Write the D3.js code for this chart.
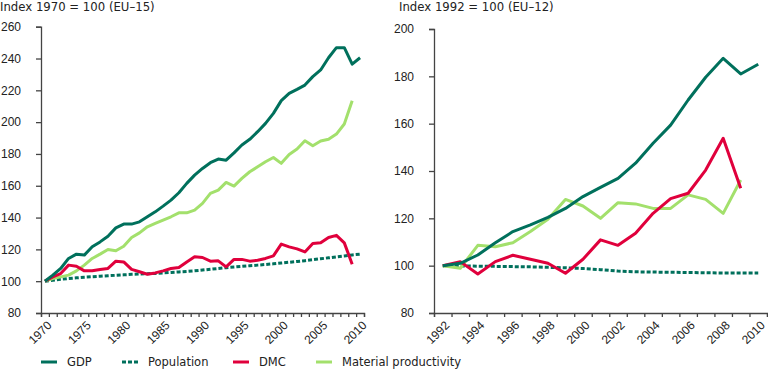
<!DOCTYPE html>
<html>
<head>
<meta charset="utf-8">
<script src="https://cdn.jsdelivr.net/npm/d3@7"></script>
<style>
  body { margin: 0; background: #fff; }
  svg { display: block; font-family: "DejaVu Sans", Verdana, sans-serif; }
  .axis path, .axis line { stroke: #444; stroke-width: 1.3px; }
</style>
</head>
<body>
<svg id="chart" width="768" height="369"></svg>
<script>
// ---------- Data: left panel (EU-15, 1970 = 100) ----------
const yearsL = d3.range(1970, 2011);
const gdpL = [100, 103.8, 108, 114.3, 117, 116.4, 121.6, 124.7, 128.3, 133.5, 135.9,
  135.9, 137.3, 140.5, 143.6, 147.2, 151, 155.6, 161.5, 166.7, 170.9,
  174.5, 176.8, 176.1, 180.7, 185.6, 189.2, 194, 199.2, 205.5, 213.5,
  218.1, 220.6, 223.3, 228.6, 232.8, 240.5, 246.8, 246.8, 236.5, 240.5];
const popL = [100, 100.6, 101.2, 101.7, 102.1, 102.5, 102.8, 103.1, 103.4, 103.7, 104.0,
  104.3, 104.5, 104.7, 104.9, 105.2, 105.5, 105.8, 106.1, 106.5, 107.0,
  107.5, 108.0, 108.5, 108.9, 109.3, 109.7, 110.1, 110.5, 110.9, 111.4,
  111.9, 112.4, 112.9, 113.5, 114.1, 114.7, 115.3, 115.9, 116.5, 117.0];
const dmcL = [100, 102.7, 104.8, 110.1, 109.4, 106.5, 106.5, 107.4, 108, 112.6, 112.1,
  107.4, 105.9, 104.4, 105.2, 106.5, 108, 108.6, 112.1, 115.3, 114.9,
  112.6, 112.8, 109, 113.7, 113.7, 112.6, 113.2, 114.3, 115.9, 123.3,
  121.6, 120.3, 118.4, 123.7, 124.1, 127.5, 128.8, 124.1, 110.7];
const mpL = [100, 101.7, 102.7, 103.8, 106.5, 110.1, 114.3, 117, 119.9, 119.1, 122,
  127.5, 130.4, 134.2, 136.3, 138.4, 140.5, 143, 143, 144.7, 148.9,
  155.2, 157.3, 162.1, 159.8, 164.6, 168.8, 171.9, 175.1, 177.8, 174.1,
  179.7, 183.1, 188.3, 185.1, 188.1, 189.2, 192.5, 198.8, 213.5];
const ticksYL = [80, 100, 120, 140, 160, 180, 200, 220, 240, 260];
const labelYearsL = [1970, 1975, 1980, 1985, 1990, 1995, 2000, 2005, 2010];

// ---------- Data: right panel (EU-12, 1992 = 100) ----------
const yearsR = d3.range(1992, 2011);
const gdpR = [100, 101, 104.5, 109.7, 114.4, 117.2, 120.4, 124.2, 129.2, 133.1,
  136.9, 143.3, 151.7, 159.4, 170, 179.6, 187.6, 181, 185.1];
const popR = [100, 99.9, 99.8, 99.7, 99.6, 99.5, 99.3, 99.1, 98.8, 98.3,
  97.7, 97.4, 97.3, 97.2, 97.1, 97.0, 96.9, 96.9, 96.9];
const dmcR = [100, 101.7, 96.5, 101.7, 104.4, 102.7, 101.0, 96.8, 102.7, 110.9,
  108.6, 113.7, 122.1, 128.3, 130.6, 140.4, 153.8, 132.7];
const mpR = [100, 98.9, 108.6, 108.0, 109.7, 114.4, 119.6, 128.0, 125.2, 120.0,
  126.6, 126.1, 124.2, 124.2, 129.9, 128.0, 122.1, 136.2];
const ticksYR = [80, 100, 120, 140, 160, 180, 200];
const labelYearsR = [1992, 1994, 1996, 1998, 2000, 2002, 2004, 2006, 2008, 2010];

const seriesNames = ["GDP", "Population", "DMC", "Material productivity"];
const colors = { "GDP": "#00705c", "Population": "#00705c", "DMC": "#e0003c", "Material productivity": "#a3e06c" };

const svg = d3.select("#chart");

function panel(opts) {
  const g = svg.append("g");
  const x = d3.scaleLinear().domain([opts.years[0] - 0.5, opts.years[opts.years.length - 1] + 0.5]).range(opts.xr);
  const y = d3.scaleLinear().domain([opts.yTicks[0], opts.yTicks[opts.yTicks.length - 1]]).range(opts.yr);

  // title
  g.append("text").attr("x", opts.titleX).attr("y", 11).style("font-size", "11.7px").attr("fill", "#222").text(opts.title);

  // y axis
  const ya = g.append("g").attr("class", "axis").attr("transform", `translate(${opts.xr[0]},0)`)
    .call(d3.axisLeft(y).tickValues(opts.yTicks).tickSize(5).tickPadding(15).tickFormat(d3.format("d")));
  ya.selectAll("text").style("font-size", "12px").attr("fill", "#222");
  // x axis: boundary ticks
  const bounds = d3.range(opts.years[0] - 0.5, opts.years[opts.years.length - 1] + 1, 1);
  g.append("g").attr("class", "axis").attr("transform", `translate(0,${opts.yr[0]})`)
    .call(d3.axisBottom(x).tickValues(bounds).tickSize(4).tickFormat(""));
  // x labels (rotated)
  const xl = g.append("g").attr("class", "axis").attr("transform", `translate(0,${opts.yr[0]})`)
    .call(d3.axisBottom(x).tickValues(opts.labelYears).tickSize(0).tickFormat(d3.format("d")));
  xl.select(".domain").remove();
  xl.selectAll("text").style("font-size", "12px").attr("fill", "#222")
    .attr("text-anchor", "end").attr("dy", "0.35em").attr("y", 0)
    .attr("transform", "translate(4,10) rotate(-45)");

  const line = d3.line().x((d, i) => x(opts.years[i])).y(d => y(d));
  const data = [
    { name: "Population", vals: opts.pop, dash: "4,2" },
    { name: "Material productivity", vals: opts.mp },
    { name: "DMC", vals: opts.dmc },
    { name: "GDP", vals: opts.gdp }
  ];
  g.selectAll("path.series").data(data).enter().append("path")
    .attr("class", "series")
    .attr("d", d => line(d.vals))
    .attr("fill", "none")
    .attr("stroke", d => colors[d.name])
    .attr("stroke-width", 3)
    .attr("stroke-linejoin", "round")
    .attr("stroke-dasharray", d => d.dash || null);
}

panel({ years: yearsL, gdp: gdpL, pop: popL, dmc: dmcL, mp: mpL, yTicks: ticksYL, labelYears: labelYearsL,
  xr: [41, 364], yr: [313, 26.7], title: "Index 1970 = 100 (EU\u201315)", titleX: 0 });
panel({ years: yearsR, gdp: gdpR, pop: popR, dmc: dmcR, mp: mpR, yTicks: ticksYR, labelYears: labelYearsR,
  xr: [434, 767], yr: [313, 29], title: "Index 1992 = 100 (EU\u201312)", titleX: 399 });

// legend
const legendX = [41, 122, 233, 316];
const leg = svg.append("g").attr("transform", "translate(0,362)");
const items = leg.selectAll("g").data(seriesNames).enter().append("g")
  .attr("transform", (d, i) => `translate(${legendX[i]},0)`);
items.append("line").attr("x1", 0).attr("x2", 16).attr("y1", 0).attr("y2", 0)
  .attr("stroke", d => colors[d]).attr("stroke-width", 3)
  .attr("stroke-dasharray", d => d === "Population" ? "4,2" : null);
items.append("text").attr("x", 26).attr("y", 0).attr("dy", "0.35em").style("font-size", "11.5px")
  .attr("fill", "#222").text(d => d);
</script>
</body>
</html>
